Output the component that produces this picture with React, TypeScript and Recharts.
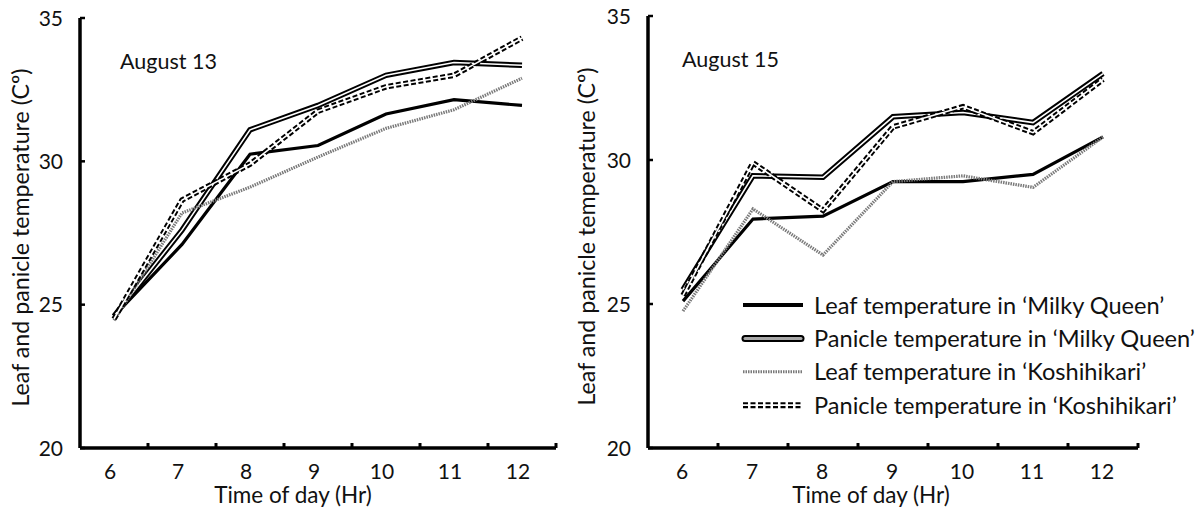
import React from 'react';
import { LineChart, Line, XAxis, YAxis, Legend, Customized } from 'recharts';

const hours = [6, 7, 8, 9, 10, 11, 12];
const xTicks = [6, 6.5, 7, 7.5, 8, 8.5, 9, 9.5, 10, 10.5, 11, 11.5, 12, 12.5];
const yTicks = [20, 25, 30, 35];

const seriesOrder = ['leafMQ', 'panicleMQ', 'leafK', 'panicleK'];
const seriesNames: Record<string, string> = {
  leafMQ: 'Leaf temperature in \u2018Milky Queen\u2019',
  panicleMQ: 'Panicle temperature in \u2018Milky Queen\u2019',
  leafK: 'Leaf temperature in \u2018Koshihikari\u2019',
  panicleK: 'Panicle temperature in \u2018Koshihikari\u2019',
};

// August 13
const aug13LeafMQ = [24.6, 27.1, 30.25, 30.55, 31.65, 32.15, 31.95];
const aug13PanicleMQ = [24.6, 27.6, 31.1, 31.95, 33.0, 33.45, 33.35];
const aug13LeafK = [24.45, 28.2, 29.1, 30.15, 31.15, 31.8, 32.9];
const aug13PanicleK = [24.5, 28.65, 29.9, 31.75, 32.6, 33.0, 34.3];

// August 15
const aug15LeafMQ = [25.1, 27.95, 28.05, 29.25, 29.25, 29.5, 30.8];
const aug15PanicleMQ = [25.5, 29.45, 29.4, 31.5, 31.65, 31.3, 33.0];
const aug15LeafK = [24.75, 28.3, 26.7, 29.25, 29.45, 29.05, 30.8];
const aug15PanicleK = [25.3, 29.9, 28.25, 31.15, 31.85, 30.95, 32.8];

const FONT = "Lato, 'Open Sans', sans-serif";
const TEXT = '#111';

function buildRows(a: number[], b: number[], c: number[], d: number[]) {
  return hours.map((h, i) => ({ hour: h, leafMQ: a[i], panicleMQ: b[i], leafK: c[i], panicleK: d[i] }));
}

const aug13Rows = buildRows(aug13LeafMQ, aug13PanicleMQ, aug13LeafK, aug13PanicleK);
const aug15Rows = buildRows(aug15LeafMQ, aug15PanicleMQ, aug15LeafK, aug15PanicleK);

const makeXTick = (labelDx: number) => (props: any) => {
  const { x, y, payload } = props;
  const v = Number(payload.value);
  if (!Number.isInteger(v)) {
    return <line x1={x} x2={x} y1={y} y2={y - 5} stroke="#000" strokeWidth={3} />;
  }
  return (
    <text x={x + labelDx} y={y + 31} textAnchor="middle" fontFamily={FONT} fontSize={21} fill={TEXT}>
      {v}
    </text>
  );
};

const renderYTick = (props: any) => {
  const { x, y, payload } = props;
  return (
    <g>
      <line x1={x} x2={x + 5} y1={y} y2={y} stroke="#000" strokeWidth={2.5} />
      <text x={x - 17} y={y + 7.5} textAnchor="end" fontFamily={FONT} fontSize={21} fill={TEXT}>
        {payload.value}
      </text>
    </g>
  );
};

const legendSample = (key: string, y: number) => {
  const x1 = 2;
  const x2 = 62;
  if (key === 'leafMQ') return <line x1={x1} x2={x2} y1={y} y2={y} stroke="#000" strokeWidth={4} />;
  if (key === 'panicleMQ')
    return (
      <g>
        <line x1={x1 + 2} x2={x2 - 2} y1={y} y2={y} stroke="#000" strokeWidth={7} strokeLinecap="round" />
        <line x1={x1 + 2} x2={x2 - 2} y1={y} y2={y} stroke="#a8a8a8" strokeWidth={3} strokeLinecap="round" />
      </g>
    );
  if (key === 'leafK')
    return <line x1={x1} x2={x2} y1={y} y2={y} stroke="#7a7a7a" strokeWidth={3} strokeDasharray="1.5 1" />;
  return (
    <g>
      <line x1={x1} x2={x2} y1={y} y2={y} stroke="#000" strokeWidth={6} strokeDasharray="5 2.5" />
      <line x1={x1} x2={x2} y1={y} y2={y} stroke="#fff" strokeWidth={1.8} />
    </g>
  );
};

const renderLegend = (props: any) => {
  const byKey: Record<string, any> = {};
  (props.payload || []).forEach((p: any) => {
    const k = String(p.dataKey);
    if (p.type !== 'none' && !byKey[k]) byKey[k] = p;
  });
  const items = seriesOrder.filter((k) => byKey[k]).map((k) => byKey[k]);
  return (
    <svg width={470} height={135}>
      {items.map((p: any, i: number) => (
        <g key={String(p.dataKey)}>
          {legendSample(String(p.dataKey), 15 + i * 33.4)}
          <text x={73} y={23.5 + i * 33.4} fontFamily={FONT} fontSize={23.6} fill={TEXT}>
            {p.value}
          </text>
        </g>
      ))}
    </svg>
  );
};

type PanelProps = {
  rows: any[];
  left: number;
  width: number;
  top: number;
  right: number;
  yAxisWidth: number;
  yLabelX: number;
  labelDx: number;
  xTitleDx: number;
  title: string;
  titleX: number;
  titleY: number;
  showLegend: boolean;
};

function Panel(p: PanelProps) {
  return (
    <div style={{ position: 'absolute', left: p.left, top: 0 }}>
      <LineChart width={p.width} height={508} data={p.rows} margin={{ top: p.top, right: p.right, bottom: 0, left: 0 }}>
        <XAxis
          dataKey="hour"
          type="number"
          domain={[5.5, 12.5]}
          ticks={xTicks}
          interval={0}
          tickSize={0}
          tickMargin={0}
          tickLine={false}
          tick={makeXTick(p.labelDx)}
          axisLine={{ stroke: '#000', strokeWidth: 3.5 }}
          height={60}
          label={{
            content: (lp: any) => {
              const vb = lp.viewBox || {};
              return (
                <text
                  x={vb.x + vb.width / 2 + p.xTitleDx}
                  y={vb.y + 55}
                  textAnchor="middle"
                  fontFamily={FONT}
                  fontSize={22.5}
                  fill={TEXT}
                >
                  Time of day (Hr)
                </text>
              );
            },
          }}
        />
        <YAxis
          type="number"
          domain={[20, 35]}
          ticks={yTicks}
          interval={0}
          tickSize={0}
          tickMargin={0}
          tickLine={false}
          tick={renderYTick}
          axisLine={{ stroke: '#000', strokeWidth: 3.5 }}
          width={p.yAxisWidth}
          label={{
            content: (lp: any) => {
              const vb = lp.viewBox || {};
              const x = vb.x + p.yLabelX;
              const y = vb.y + vb.height / 2 + 4.5;
              return (
                <text
                  x={x}
                  y={y}
                  transform={`rotate(-90 ${x} ${y})`}
                  textAnchor="middle"
                  fontFamily={FONT}
                  fontSize={23.2}
                  fill={TEXT}
                >
                  Leaf and panicle temperature (C{'\u00ba'})
                </text>
              );
            },
          }}
        />
        <Line
          dataKey="leafMQ"
          name={seriesNames.leafMQ}
          type="linear"
          stroke="#000"
          strokeWidth={3.2}
          dot={false}
          activeDot={false}
          isAnimationActive={false}
        />
        <Line
          dataKey="panicleMQ"
          name={seriesNames.panicleMQ}
          type="linear"
          stroke="#000"
          strokeWidth={5.5}
          dot={false}
          activeDot={false}
          isAnimationActive={false}
        />
        <Line
          dataKey="panicleMQ"
          legendType="none"
          type="linear"
          stroke="#fff"
          strokeWidth={1.6}
          dot={false}
          activeDot={false}
          isAnimationActive={false}
        />
        <Line
          dataKey="leafK"
          name={seriesNames.leafK}
          type="linear"
          stroke="#7a7a7a"
          strokeWidth={3.2}
          strokeDasharray="1.5 1"
          dot={false}
          activeDot={false}
          isAnimationActive={false}
        />
        <Line
          dataKey="panicleK"
          name={seriesNames.panicleK}
          type="linear"
          stroke="#000"
          strokeWidth={5.5}
          strokeDasharray="5 2.5"
          dot={false}
          activeDot={false}
          isAnimationActive={false}
        />
        <Line
          dataKey="panicleK"
          legendType="none"
          type="linear"
          stroke="#fff"
          strokeWidth={1.6}
          dot={false}
          activeDot={false}
          isAnimationActive={false}
        />
        <Customized
          component={() => (
            <text x={p.titleX} y={p.titleY} fontFamily={FONT} fontSize={21.5} fill={TEXT}>
              {p.title}
            </text>
          )}
        />
        {p.showLegend && (
          <Legend
            layout="vertical"
            align="center"
            verticalAlign="middle"
            content={renderLegend}
            wrapperStyle={{ position: 'absolute', left: 181, top: 290, width: 470, height: 135 }}
          />
        )}
      </LineChart>
    </div>
  );
}

export default function App() {
  return (
    <div style={{ position: 'absolute', left: 0, top: 0, width: 1201, height: 508, background: '#fff' }}>
      <Panel
        rows={aug13Rows}
        left={0}
        width={600}
        top={18}
        right={44}
        yAxisWidth={80}
        yLabelX={28.5}
        labelDx={-4}
        xTitleDx={-25}
        title="August 13"
        titleX={120}
        titleY={69}
        showLegend={false}
      />
      <Panel
        rows={aug15Rows}
        left={560}
        width={640}
        top={16}
        right={62}
        yAxisWidth={88}
        yLabelX={35}
        labelDx={-1}
        xTitleDx={-22}
        title="August 15"
        titleX={122}
        titleY={67}
        showLegend={true}
      />
    </div>
  );
}
